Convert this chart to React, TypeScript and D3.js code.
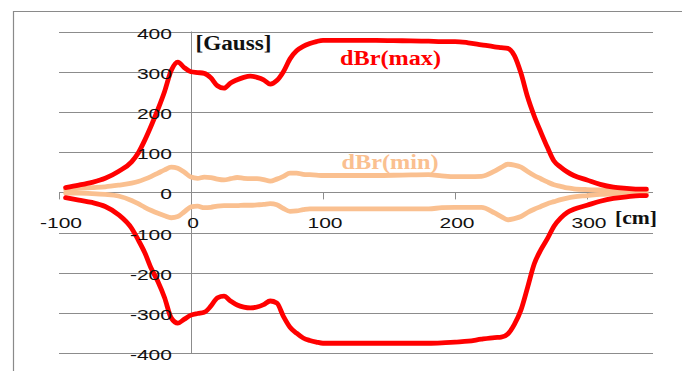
import React, { useEffect, useRef } from 'react';
import * as d3 from 'd3';

// positions along the magnet (cm) shared by all four traces
const positionsCm = [
  -95, -85, -75, -65, -55, -45, -40, -35, -30, -25, -20, -15, -10, -5, 0, 5, 10, 15, 20, 25,
  30, 35, 40, 45, 50, 55, 60, 65, 70, 75, 80, 85, 90, 95, 100, 120, 140, 160, 180, 190,
  200, 210, 220, 230, 235, 240, 245, 250, 255, 260, 265, 270, 275, 280, 285, 290, 300, 310, 320, 330,
  340, 345,
];

const dBrMaxUpper = [
  12, 18, 25, 35, 52, 76, 98, 130, 167, 207, 251, 303, 324, 310, 300, 298, 296, 285, 265, 259,
  272, 280, 286, 289, 286, 280, 269, 278, 300, 332, 352, 363, 370, 375, 378, 378, 378, 377, 376, 375,
  375, 372, 367, 362, 360, 358, 340, 296, 237, 190, 150, 112, 78, 63, 51, 42, 31, 20, 13, 10,
  8, 8,
];

const dBrMaxLower = [
  -13, -19, -25, -35, -55, -89, -118, -150, -190, -222, -262, -312, -325, -315, -305, -301, -298, -283, -262, -258,
  -270, -280, -285, -287, -285, -279, -270, -275, -308, -335, -350, -362, -368, -372, -375, -375, -375, -375, -375, -374,
  -372, -370, -365, -361, -360, -352, -328, -292, -236, -178, -143, -115, -84, -64, -50, -42, -32, -22, -15, -11,
  -8, -8,
];

const dBrMinUpper = [
  7, 10, 12, 14, 18, 23, 27, 33, 40, 48, 56, 63, 60, 50, 38, 35, 38, 37, 33, 31,
  34, 37, 35, 34, 34, 32, 28, 33, 40, 48, 48, 45, 44, 43, 42, 42, 42, 43, 44, 41,
  39, 39, 40, 53, 62, 70, 68, 63, 52, 42, 34, 26, 19, 15, 11, 9, 7, 6, 6, 5,
  5, 5,
];

const dBrMinLower = [
  -2, -2, -3, -5, -9, -20, -28, -37, -45, -52, -58, -63, -60, -48, -36, -34, -38, -37, -34, -33,
  -33, -33, -32, -32, -31, -30, -28, -31, -40, -47, -46, -43, -41, -41, -41, -41, -41, -41, -41, -38,
  -37, -37, -37, -51, -60, -68, -65, -60, -50, -42, -35, -28, -23, -18, -14, -11, -8, -5, -4, -3,
  -2, -2,
];

const yTicks = [-400, -300, -200, -100, 0, 100, 200, 300, 400];
const xTicks = [-100, 0, 100, 200, 300];

const WIDTH = 682;
const HEIGHT = 371;
const STRETCH = 1.45;

const App = () => {
  const chartRef = useRef(null);

  useEffect(() => {
    const svg = d3.select(chartRef.current);
    svg.selectAll('*').remove();

    const x = d3.scaleLinear().domain([-100, 350]).range([59, 653]);
    const y = d3.scaleLinear().domain([-400, 400]).range([353.3, 31.5]);

    // frame around the chart (cut by the picture on the right and bottom)
    svg.append('path')
      .attr('d', `M13.5,${HEIGHT} V11.5 H${WIDTH}`)
      .attr('fill', 'none')
      .attr('stroke', '#8a8a8a')
      .attr('stroke-width', 1.2);

    svg.append('g')
      .selectAll('line')
      .data(yTicks)
      .join('line')
      .attr('x1', x(-100))
      .attr('x2', x(350))
      .attr('y1', d => Math.round(y(d)) + 0.5)
      .attr('y2', d => Math.round(y(d)) + 0.5)
      .attr('stroke', '#8c8c8c')
      .attr('stroke-width', 1);

    // vertical axis at x = 0
    svg.append('line')
      .attr('x1', Math.round(x(0)) + 0.5)
      .attr('x2', Math.round(x(0)) + 0.5)
      .attr('y1', y(400))
      .attr('y2', y(-400))
      .attr('stroke', '#8c8c8c');

    // x ticks hanging below the zero line
    svg.append('g')
      .selectAll('line')
      .data(xTicks)
      .join('line')
      .attr('x1', d => Math.round(x(d)) + 0.5)
      .attr('x2', d => Math.round(x(d)) + 0.5)
      .attr('y1', y(0))
      .attr('y2', y(0) + 7)
      .attr('stroke', '#8c8c8c');

    const line = d3.line()
      .x((d, i) => x(positionsCm[i]))
      .y(d => y(d))
      .curve(d3.curveMonotoneX);

    const series = [
      { values: dBrMinUpper, color: '#FAC090' },
      { values: dBrMinLower, color: '#FAC090' },
      { values: dBrMaxUpper, color: '#FF0000' },
      { values: dBrMaxLower, color: '#FF0000' },
    ];

    svg.append('g')
      .selectAll('path')
      .data(series)
      .join('path')
      .attr('d', s => line(s.values))
      .attr('fill', 'none')
      .attr('stroke', s => s.color)
      .attr('stroke-width', 4.8)
      .attr('stroke-linejoin', 'round')
      .attr('stroke-linecap', 'round');

    const numbers = svg.append('g')
      .attr('font-family', '"Liberation Sans", Arial, sans-serif')
      .attr('font-size', 14.5)
      .attr('fill', '#111');

    numbers.selectAll('text.ylab')
      .data(yTicks)
      .join('text')
      .attr('class', 'ylab')
      .attr('text-anchor', 'end')
      .attr('transform', d => `translate(172,${y(d) + 7}) scale(${STRETCH},1)`)
      .text(d => d);

    numbers.selectAll('text.xlab')
      .data(xTicks)
      .join('text')
      .attr('class', 'xlab')
      .attr('text-anchor', 'middle')
      .attr('transform', d => `translate(${x(d) + 2},${y(0) + 35.5}) scale(${STRETCH},1)`)
      .text(d => d);

    const labels = [
      { text: '[Gauss]', x: 195.5, y: 49.5, size: 20, len: 76, color: '#111' },
      { text: 'dBr(max)', x: 340, y: 64.5, size: 20, len: 101, color: '#FF0000' },
      { text: 'dBr(min)', x: 341.5, y: 169, size: 20, len: 97, color: '#FAC090' },
      { text: '[cm]', x: 615, y: 224, size: 19, len: 42, color: '#111' },
    ];

    svg.append('g')
      .attr('font-family', '"Liberation Serif", "Times New Roman", serif')
      .attr('font-weight', 'bold')
      .selectAll('text')
      .data(labels)
      .join('text')
      .attr('x', d => d.x)
      .attr('y', d => d.y)
      .attr('font-size', d => d.size)
      .attr('fill', d => d.color)
      .attr('textLength', d => d.len)
      .attr('lengthAdjust', 'spacingAndGlyphs')
      .text(d => d.text);
  });

  return (
    <svg
      ref={chartRef}
      width={WIDTH}
      height={HEIGHT}
      style={{ position: 'absolute', left: 0, top: 0, background: '#fff' }}
    />
  );
};

export default App;
